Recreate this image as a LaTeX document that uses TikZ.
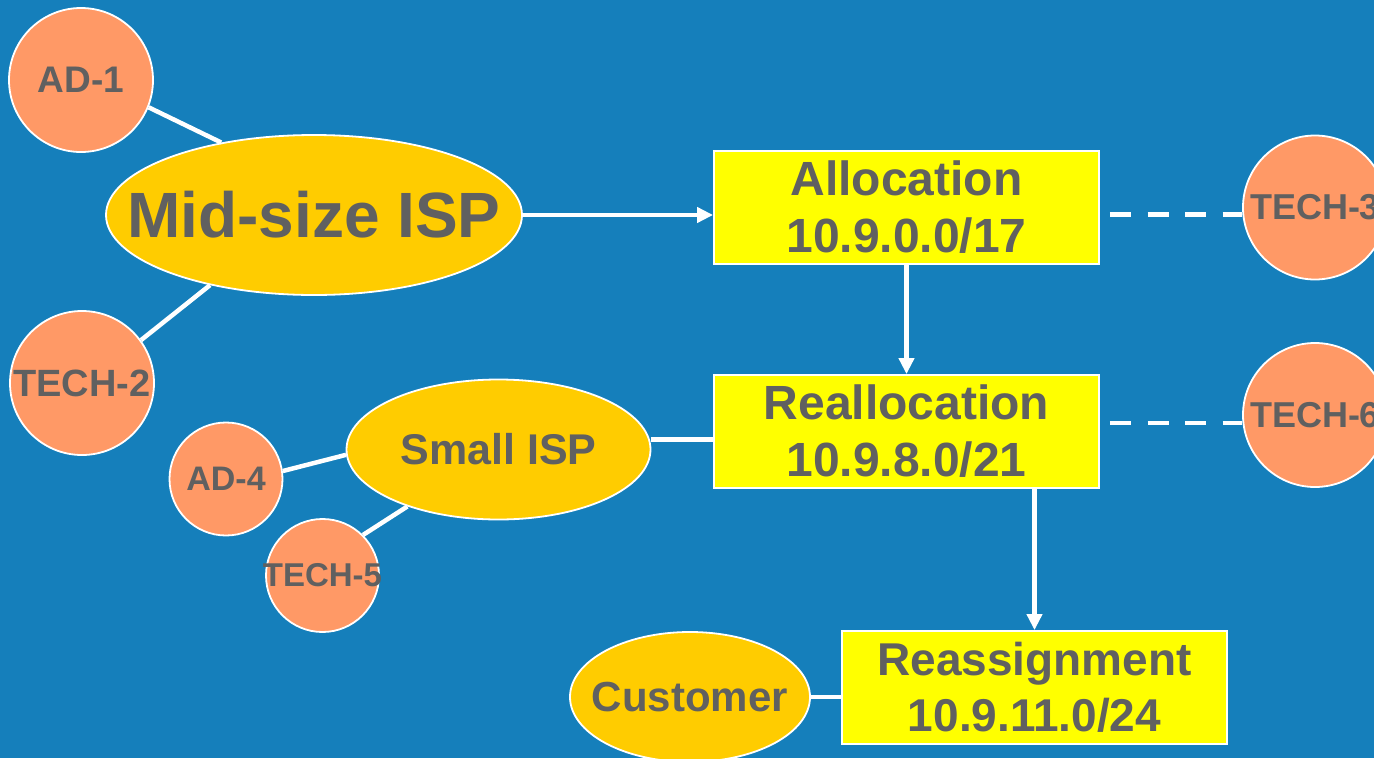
\documentclass[tikz,border=0pt]{standalone}
\usepackage{fontspec}
\setmainfont{Liberation Sans}
\usetikzlibrary{shapes.geometric,arrows.meta}
\definecolor{bg}{RGB}{21,127,187}
\definecolor{txtgray}{RGB}{96,96,96}
\definecolor{salmon}{RGB}{255,153,102}
\definecolor{gold}{RGB}{255,204,0}
\definecolor{boxyellow}{RGB}{255,255,0}
\begin{document}
\begin{tikzpicture}[x=1pt,y=-1pt,
  lbl/.style={font=\bfseries\fontsize{#1}{#1}\selectfont, text=txtgray, inner sep=0pt},
  circ/.style={circle, draw=white, line width=1.8pt, fill=salmon, inner sep=0pt, minimum size=#1},
  oval/.style 2 args={ellipse, draw=white, line width=1.8pt, fill=gold, inner sep=0pt, minimum width=#1, minimum height=#2},
  blk/.style={rectangle, draw=white, line width=1.8pt, fill=boxyellow, inner sep=0pt,
    minimum width=385pt, minimum height=113pt, align=center, text=txtgray},
  conn/.style={draw=white, line width=4.5pt},
  arr/.style={conn, -{Triangle[length=16pt,width=15pt]}},
  dsh/.style={conn, dash pattern=on 21pt off 16.6pt, dash phase=27.6pt}
]
\useasboundingbox (0,0) rectangle (1374,758);
\clip (0,0) rectangle (1374,758);
\fill[bg] (0,0) rectangle (1374,758);

\node[circ=144pt, label={[lbl=37]center:AD-1}] (ad1) at (81,80) {};
\node[circ=144pt, label={[lbl=38]center:TECH-2}] (tech2) at (82,383) {};
\node[oval={416pt}{160pt}, label={[lbl=64]center:Mid-size ISP}] (mid) at (314,215) {};
\node[blk, font=\bfseries\fontsize{48}{57}\selectfont] (alloc) at (906.5,207.5) {Allocation\\10.9.0.0/17};
\node[blk, font=\bfseries\fontsize{48}{57}\selectfont] (realloc) at (906.5,431.5) {Reallocation\\10.9.8.0/21};
\node[blk, font=\bfseries\fontsize{46}{56}\selectfont] (reassign) at (1034.5,687.5) {Reassignment\\10.9.11.0/24};
\node[circ=144pt, label={[lbl=36]center:TECH-3}] (tech3) at (1315,207.5) {};
\node[circ=144pt, label={[lbl=36]center:TECH-6}] (tech6) at (1315,415) {};
\node[oval={304pt}{140pt}, label={[lbl=43]center:Small ISP}] (small) at (498.5,449.5) {};
\node[circ=113pt, label={[lbl=34]center:AD-4}] (ad4) at (226,479) {};
\node[circ=113pt, label={[lbl=33]center:TECH-5}] (tech5) at (322.5,575.5) {};
\node[oval={240pt}{130pt}, label={[lbl=42]center:Customer}] (cust) at (690,697) {};

% connectors
\path[conn] (ad1.-22) -- (mid.142);
\path[conn] (tech2.36) -- (mid.214.7);
\path[arr] (mid.east) -- (mid.east -| alloc.west);
\path[arr] (alloc.south) -- (realloc.north);
\path[arr] (reassign.north |- realloc.south) -- (reassign.north);
\path[dsh] ([yshift=-7pt]alloc.east) -- ([yshift=-7pt]alloc.east -| tech3.west);
\path[dsh] ([yshift=-8pt]tech6.west -| realloc.east) -- ([yshift=-8pt]tech6.west);
\path[conn] ([yshift=-8pt]realloc.west -| small.east) -- ([yshift=-8pt]realloc.west);
\path[conn] (ad4.8.5) -- (small.182);
\path[conn] (tech5.45) -- (small.212);
\path[conn] (cust.east) -- (cust.east -| reassign.west);
\end{tikzpicture}
\end{document}
